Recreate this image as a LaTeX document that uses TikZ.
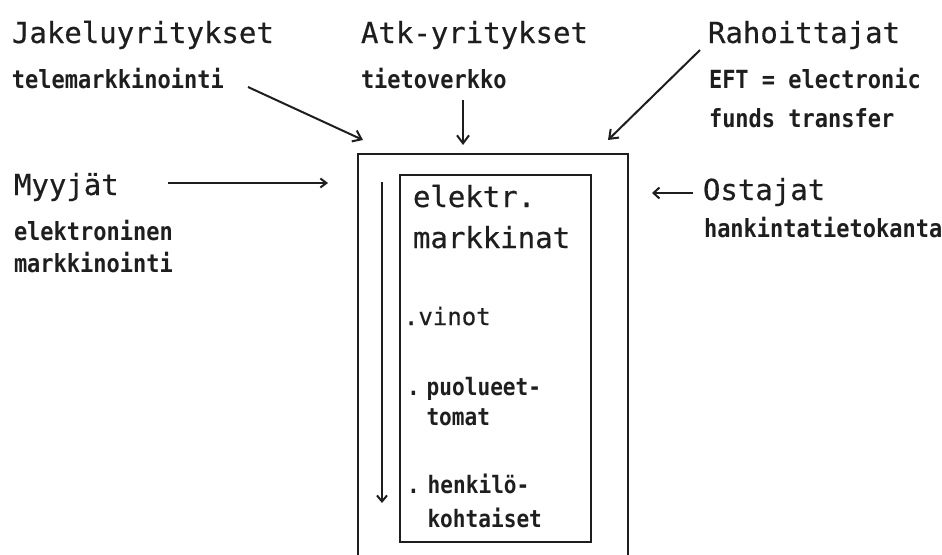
\documentclass[tikz,border=0pt]{standalone}
\usepackage{fontspec}
\setmainfont{DejaVu Sans Mono}
\newfontfamily\bigf[FakeBold=0.5]{DejaVu Sans Mono}
\newfontfamily\smallf[FakeStretch=0.88]{DejaVu Sans Mono}
\usetikzlibrary{arrows.meta}
\definecolor{ink}{HTML}{1E1E1E}
\begin{document}
\begin{tikzpicture}[x=1pt,y=-1pt,
  big/.style={anchor=base west,inner sep=0pt,outer sep=0pt,text=ink,font=\bigf\fontsize{29}{31}\selectfont},
  small/.style={anchor=base west,inner sep=0pt,outer sep=0pt,text=ink,font=\smallf\fontsize{25}{27}\selectfont\bfseries},
  item/.style={anchor=base west,inner sep=0pt,outer sep=0pt,text=ink,font=\smallf\fontsize{24}{26}\selectfont\bfseries},
  conn/.style={line width=2pt,draw=ink,-{Straight Barb[length=8pt,width=12pt,line width=2pt]}},
  frame/.style={line width=2.8pt,draw=ink}]
\useasboundingbox (0,0) rectangle (942,554);
% upper labels
\node[big] (jak) at (12,43) {Jakeluyritykset};
\node[small] (tele) at (12,88) {telemarkkinointi};
\node[big] (atk) at (361,43) {Atk-yritykset};
\node[small] (tieto) at (361,88) {tietoverkko};
\node[big] (raho) at (708,43) {Rahoittajat};
\node[small] (eft) at (709,88) {EFT = electronic};
\node[small] (funds) at (709,127) {funds transfer};
% side labels
\node[big] (myy) at (14,195) {Myyjät};
\node[small] (elek) at (14,240) {elektroninen};
\node[small] (mark) at (14,272) {markkinointi};
\node[big] (ost) at (703,200) {Ostajat};
\node[small] (hank) at (704,237) {hankintatietokanta};
% frames
\draw[frame] (358,570) -- (358,154) -- (628,154) -- (628,570);
\node[frame,draw,inner sep=0pt,minimum width=191pt,minimum height=367pt] (inner) at (495.5,358.5) {};
% inner texts
\node[big] (el) at (413,207) {elektr.};
\node[big] (mk) at (413,248) {markkinat};
\node[item,font=\bigf\fontsize{24}{26}\selectfont] (vin) at (404,325) {.vinot};
\node[item] (puo) at (407,395) {.\kern7pt puolueet-};
\node[item] (tom) at (426.5,425) {tomat};
\node[item] (hen) at (407,493) {.\kern8pt henkilö-};
\node[item] (koh) at (427.5,527) {kohtaiset};
% connector end points
\coordinate (t1) at (248,87);
\coordinate (t2) at (363,140);
\coordinate (d1) at (463,100);
\coordinate (d2) at (463,145);
\coordinate (r1) at (700,50);
\coordinate (r2) at (608,140);
\coordinate (m1) at (168,183);
\coordinate (m2) at (328,183);
\coordinate (o1) at (693,193);
\coordinate (o2) at (652,193);
\coordinate (v1) at (382,182);
\coordinate (v2) at (382,503);
% connectors
\draw[conn] (t1) -- (t2);
\draw[conn] (d1) -- (d2);
\draw[conn] (r1) -- (r2);
\draw[conn,-{Straight Barb[length=6pt,width=9pt,line width=2pt]}] (m1) -- (m2);
\draw[conn,-{Straight Barb[length=6pt,width=11pt,line width=2pt]}] (o1) -- (o2);
\draw[conn,-{Straight Barb[length=6pt,width=10pt,line width=2pt]}] (v1) -- (v2);
\end{tikzpicture}
\end{document}
